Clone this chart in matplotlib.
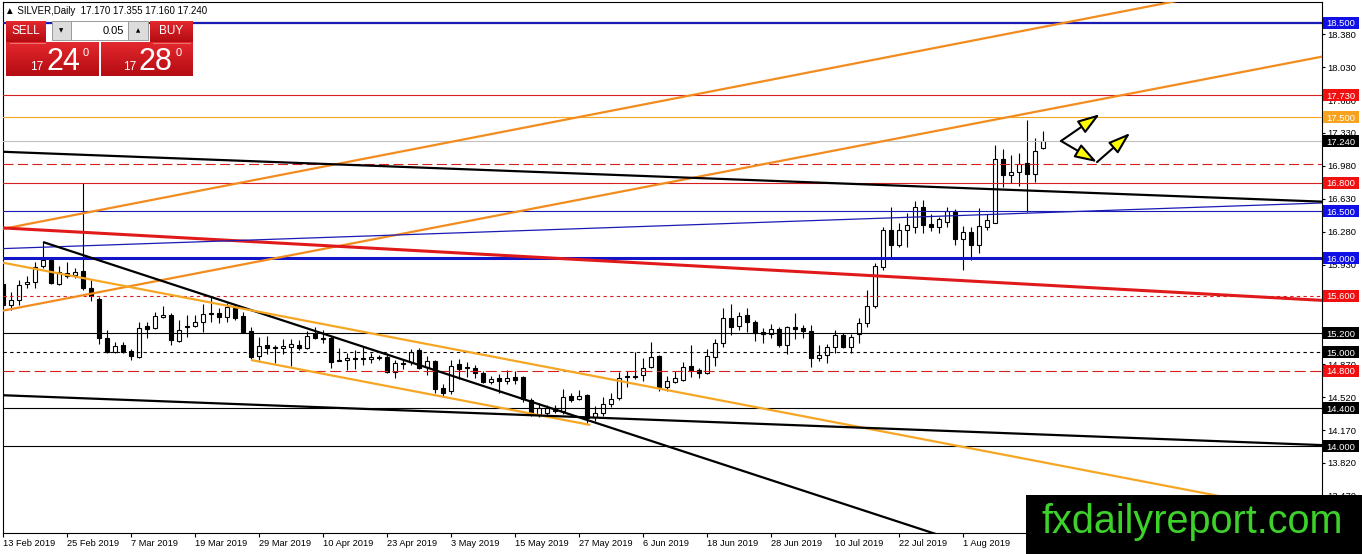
import numpy as np
import matplotlib
matplotlib.use("Agg")
import matplotlib.pyplot as plt
from matplotlib.patches import Rectangle
from matplotlib.colors import LinearSegmentedColormap
from matplotlib.transforms import blended_transform_factory

plt.rcParams['font.family'] = ['Liberation Sans', 'DejaVu Sans']

# ---- daily candles, 13 Feb 2019 .. 13 Aug 2019 ----
opens = [15.72, 15.50, 15.55, 15.72, 15.75, 15.92, 15.98, 15.72, 15.84, 15.82,
         15.86, 15.68, 15.56, 15.15, 15.00, 15.07, 15.01, 14.95, 15.28, 15.26,
         15.37, 15.39, 15.12, 15.27, 15.28, 15.32, 15.41, 15.42, 15.37, 15.47,
         15.38, 15.22, 14.96, 15.07, 15.05, 15.04, 15.05, 15.07, 15.04, 15.19,
         15.15, 15.15, 14.92, 14.92, 14.94, 14.94, 14.93, 14.95, 14.95, 14.79,
         14.88, 14.89, 15.02, 14.84, 14.90, 14.62, 14.58, 14.87, 14.84, 14.83,
         14.78, 14.68, 14.72, 14.69, 14.73, 14.73, 14.49, 14.33, 14.35, 14.40,
         14.37, 14.53, 14.50, 14.54, 14.31, 14.35, 14.45, 14.51, 14.74, 14.74,
         14.76, 14.84, 14.96, 14.63, 14.68, 14.70, 14.85, 14.81, 14.78, 14.95,
         15.10, 15.36, 15.28, 15.39, 15.32, 15.21, 15.19, 15.25, 15.07, 15.27,
         15.26, 15.22, 14.94, 14.97, 15.05, 15.18, 15.05, 15.19, 15.31, 15.49,
         15.90, 16.30, 16.14, 16.30, 16.33, 16.54, 16.36, 16.33, 16.38, 16.49,
         16.20, 16.28, 16.14, 16.33, 16.37, 17.05, 16.88, 16.92, 17.01, 16.89,
         17.17]
highs = [15.78, 15.64, 15.77, 15.81, 15.96, 16.17, 16.01, 15.92, 15.96, 15.89,
         16.80, 15.77, 15.58, 15.23, 15.11, 15.11, 15.03, 15.32, 15.32, 15.43,
         15.49, 15.42, 15.34, 15.39, 15.39, 15.51, 15.60, 15.47, 15.52, 15.51,
         15.43, 15.27, 15.16, 15.17, 15.07, 15.14, 15.14, 15.13, 15.22, 15.27,
         15.23, 15.17, 15.04, 14.99, 15.02, 15.05, 14.99, 14.97, 14.99, 14.92,
         14.92, 15.03, 15.04, 14.96, 14.92, 14.66, 14.92, 14.93, 14.89, 14.86,
         14.80, 14.75, 14.77, 14.81, 14.80, 14.75, 14.51, 14.46, 14.44, 14.44,
         14.61, 14.56, 14.60, 14.55, 14.43, 14.52, 14.56, 14.79, 14.80, 15.00,
         14.94, 15.11, 14.97, 14.75, 14.80, 14.89, 15.07, 14.83, 15.03, 15.14,
         15.47, 15.51, 15.43, 15.47, 15.34, 15.26, 15.30, 15.27, 15.28, 15.42,
         15.29, 15.29, 15.07, 15.09, 15.23, 15.20, 15.19, 15.36, 15.66, 15.95,
         16.33, 16.54, 16.37, 16.48, 16.61, 16.62, 16.47, 16.44, 16.54, 16.52,
         16.34, 16.33, 16.53, 16.47, 17.20, 17.16, 17.10, 17.12, 17.47, 17.28,
         17.355]
lows = [15.47, 15.45, 15.50, 15.68, 15.68, 15.89, 15.72, 15.71, 15.79, 15.79,
        15.66, 15.54, 15.09, 14.99, 14.99, 14.99, 14.92, 14.94, 15.15, 15.25,
        15.36, 15.07, 15.11, 15.16, 15.27, 15.21, 15.32, 15.31, 15.32, 15.34,
        15.21, 14.93, 14.92, 14.98, 14.88, 14.98, 14.85, 15.02, 15.03, 15.14,
        15.10, 14.83, 14.90, 14.81, 14.82, 14.86, 14.88, 14.92, 14.78, 14.72,
        14.82, 14.86, 14.82, 14.76, 14.56, 14.52, 14.55, 14.71, 14.73, 14.72,
        14.67, 14.66, 14.56, 14.66, 14.66, 14.47, 14.32, 14.31, 14.32, 14.35,
        14.34, 14.47, 14.49, 14.25, 14.27, 14.32, 14.42, 14.49, 14.63, 14.71,
        14.69, 14.83, 14.59, 14.59, 14.67, 14.69, 14.73, 14.72, 14.77, 14.85,
        15.05, 15.18, 15.23, 15.21, 15.12, 15.10, 15.15, 15.05, 14.98, 15.14,
        15.15, 14.84, 14.90, 14.88, 14.99, 15.04, 14.99, 15.10, 15.27, 15.47,
        15.87, 16.00, 16.12, 16.12, 16.27, 16.27, 16.29, 16.27, 16.33, 16.14,
        15.87, 15.98, 16.05, 16.30, 16.37, 16.76, 16.80, 16.77, 16.49, 16.81,
        17.16]
closes = [15.50, 15.55, 15.71, 15.74, 15.90, 15.98, 15.73, 15.85, 15.81, 15.85,
          15.68, 15.60, 15.15, 15.00, 15.06, 15.00, 14.96, 15.26, 15.25, 15.38,
          15.39, 15.13, 15.23, 15.28, 15.32, 15.40, 15.40, 15.37, 15.48, 15.36,
          15.21, 14.95, 15.06, 15.04, 15.04, 15.06, 15.09, 15.04, 15.17, 15.15,
          15.14, 14.89, 14.90, 14.94, 14.93, 14.93, 14.95, 14.94, 14.79, 14.88,
          14.87, 15.00, 14.83, 14.90, 14.61, 14.56, 14.85, 14.82, 14.83, 14.78,
          14.68, 14.71, 14.69, 14.72, 14.70, 14.50, 14.34, 14.40, 14.40, 14.37,
          14.52, 14.49, 14.53, 14.30, 14.35, 14.45, 14.50, 14.72, 14.73, 14.73,
          14.83, 14.95, 14.63, 14.69, 14.72, 14.84, 14.81, 14.78, 14.96, 15.10,
          15.36, 15.27, 15.38, 15.32, 15.20, 15.19, 15.25, 15.07, 15.27, 15.25,
          15.22, 14.94, 14.97, 15.05, 15.18, 15.05, 15.16, 15.31, 15.49, 15.92,
          16.30, 16.14, 16.30, 16.35, 16.54, 16.35, 16.33, 16.41, 16.50, 16.20,
          16.28, 16.14, 16.34, 16.40, 17.05, 16.88, 16.92, 17.00, 16.89, 17.14,
          17.24]

date_labels = ['13 Feb 2019', '25 Feb 2019', '7 Mar 2019', '19 Mar 2019', '29 Mar 2019',
               '10 Apr 2019', '23 Apr 2019', '3 May 2019', '15 May 2019', '27 May 2019',
               '6 Jun 2019', '18 Jun 2019', '28 Jun 2019', '10 Jul 2019', '22 Jul 2019',
               '1 Aug 2019']
date_step = 8

price_ticks = [18.38, 18.03, 17.68, 17.33, 16.98, 16.63, 16.28, 15.93, 15.58,
               15.22, 14.87, 14.52, 14.17, 13.82, 13.47]

# horizontal levels: price, colour, width, style, label box colour (None = no box)
levels = [
    (18.50, '#1a1ab4', 1.6, '-', '#1010e6'),
    (17.73, '#d42020', 0.8, '-', '#f01010'),
    (17.50, '#f5a623', 0.8, '-', '#f8a320'),
    (17.24, '#c0c0c0', 0.8, '-', '#000000'),
    (17.00, '#d42020', 0.8, (0, (9, 4)), None),
    (16.80, '#d42020', 0.8, '-', '#f01010'),
    (16.50, '#1a1ab4', 0.8, '-', '#1010e6'),
    (16.00, '#1414c8', 2.2, '-', '#1010e6'),
    (15.60, '#d42020', 0.8, (0, (3, 3)), '#f01010'),
    (15.20, '#000000', 0.8, '-', '#000000'),
    (15.00, '#000000', 0.8, (0, (3, 3)), '#000000'),
    (14.80, '#d42020', 0.8, (0, (10, 4)), '#f01010'),
    (14.40, '#000000', 0.8, '-', '#000000'),
    (14.00, '#000000', 0.8, '-', '#000000'),
]

# trend lines: two anchor points (bar, price), drawn range, colour, width
trendlines = [
    ((0, 16.31), (145.25, 18.71), (-1, 166), '#f28c1e', 1.6),
    ((0, 15.44), (164.75, 18.14), (-1, 166), '#f28c1e', 1.6),
    ((0, 16.32), (164.75, 15.55), (-1, 166), '#e01a1a', 2.2),
    ((0, 16.10), (164.75, 16.585), (-1, 166), '#1a1ab4', 0.9),
    ((0, 17.13), (164.75, 16.60), (-1, 166), '#000000', 1.6),
    ((5, 16.17), (117.1, 13.05), (5, 166), '#000000', 1.6),
    ((0, 15.95), (164.75, 13.26), (-1, 166), '#f5a623', 1.6),
    ((31, 14.915), (73.4, 14.224), (31, 73.4), '#f5a623', 1.6),
    ((0, 14.54), (164.75, 14.01), (-1, 166), '#000000', 1.6),
]

# drawn arrows (bar, price)
arrow_start = (132.25, 17.245)
arrow_up_end = (137.1, 17.53)
arrow_mid = (136.75, 17.02)
arrow_end = (140.9, 17.33)

W, H = 1362, 554
fig = plt.figure(figsize=(W / 100, H / 100), dpi=100)
fig.patch.set_facecolor('white')
ax = fig.add_axes([2.5 / W, (H - 533) / H, 1319 / W, 531 / H])
ax.set_xlim(-0.0625, 164.81)
ax.set_ylim(13.0745, 18.7234)

x = np.arange(len(opens))
o = np.array(opens)
c = np.array(closes)
ax.vlines(x, lows, highs, color='black', lw=0.8, zorder=2)
bull = c >= o
ax.bar(x, np.maximum(np.abs(c - o), 0.006), bottom=np.minimum(o, c), width=0.62,
       color=np.where(bull, 'white', 'black'), edgecolor='black', linewidth=0.8, zorder=3)

for p, col, lw, ls, box in levels:
    ax.axhline(p, color=col, lw=lw, linestyle=ls, zorder=4)

for (k1, v1), (k2, v2), (x0, x1), col, lw in trendlines:
    s = (v2 - v1) / (k2 - k1)
    xs = np.array([x0, x1])
    ax.plot(xs, v1 + s * (xs - k1), color=col, lw=lw, zorder=4.5, solid_capstyle='butt')

arrow_kw = dict(arrowstyle='-|>,head_length=1.35,head_width=0.45', fc='#ffff00', ec='black',
                lw=1.5, shrinkA=0, shrinkB=0)
for a, b in [(arrow_start, arrow_up_end), (arrow_start, arrow_mid), (arrow_mid, arrow_end)]:
    ax.annotate('', xy=b, xytext=a, arrowprops=arrow_kw, zorder=6)

# axes styling
for sp in ax.spines.values():
    sp.set_color('black')
    sp.set_linewidth(0.8)
ax.yaxis.tick_right()
ax.set_yticks(price_ticks)
ax.set_yticklabels(['%.3f' % v for v in price_ticks])
ax.tick_params(axis='y', direction='out', length=2.5, width=0.8, pad=2, labelsize=6.8)
ax.set_xticks(np.arange(len(date_labels)) * date_step)
ax.set_xticklabels(date_labels)
for lbl in ax.get_xticklabels():
    lbl.set_ha('left')
ax.tick_params(axis='x', direction='out', length=3, width=0.8, pad=1.5, labelsize=6.7)

# price boxes on the right scale
trans = blended_transform_factory(ax.transAxes, ax.transData)
px = 1.0 / 1319
box_h = 12 / 94
for p, col, lw, ls, box in levels:
    if box is None:
        continue
    ax.add_patch(Rectangle((1 + 1.5 * px, p - box_h / 2), 36 * px, box_h, transform=trans,
                           fc=box, ec='none', clip_on=False, zorder=6))
    ax.text(1 + 19.5 * px, p, '%.3f' % p, transform=trans, ha='center', va='center_baseline',
            color='white', fontsize=6.8, clip_on=False, zorder=7)

# overlay in pixel coordinates: header, one-click trading panel, watermark
ov = fig.add_axes([0, 0, 1, 1], zorder=10)
ov.patch.set_alpha(0)
ov.axis('off')

reds = LinearSegmentedColormap.from_list('btn', ['#e3282e', '#b30c12'])
grad = np.linspace(0, 1, 64).reshape(-1, 1)


def red_box(x0, y0, x1, y1):
    ov.imshow(grad, extent=(x0, x1, y1, y0), cmap=reds, aspect='auto', interpolation='bilinear')


red_box(6, 21, 46, 42)
red_box(150, 21, 193, 42)
red_box(6, 42, 99, 76)
red_box(101, 42, 193, 76)
ov.plot([10, 45], [42.5, 42.5], color='#f08080', lw=0.6)
ov.plot([153, 190], [42.5, 42.5], color='#f08080', lw=0.6)
ov.add_patch(Rectangle((52, 21), 19, 19, fc='#dcdcdc', ec='#9a9a9a', lw=0.7))
ov.add_patch(Rectangle((71, 21), 57, 19, fc='white', ec='#9a9a9a', lw=0.7))
ov.add_patch(Rectangle((128, 21), 20, 19, fc='#dcdcdc', ec='#9a9a9a', lw=0.7))
ov.text(61.5, 31, '▼', fontsize=4, ha='center', va='center', family=['DejaVu Sans'])
ov.text(138, 30.5, '▲', fontsize=4, ha='center', va='center', family=['DejaVu Sans'])
ov.text(124, 31, '0.05', fontsize=8, ha='right', va='center')
ov.text(26, 31.5, 'SELL', fontsize=8.5, ha='center', va='center', color='white')
ov.text(171, 31.5, 'BUY', fontsize=8.5, ha='center', va='center', color='white')
for x0, big in [(30, '24'), (123, '28')]:
    ov.text(x0, 70, '17', fontsize=8.5, color='white', va='baseline')
    ov.text(x0 + 16, 70, big, fontsize=22, color='white', va='baseline')
    ov.text(x0 + 53, 56, '0', fontsize=8, color='white', va='baseline')

ov.text(5, 10.5, '▲ SILVER,Daily  17.170 17.355 17.160 17.240', fontsize=7,
        va='center', ha='left', family=['Liberation Sans', 'DejaVu Sans'])

ov.add_patch(Rectangle((1026, 495), 336, 59, fc='black', ec='none'))
ov.text(1042, 533, 'fxdailyreport.com', color='#3cd22a', fontsize=28.5, va='baseline', ha='left')

ov.set_xlim(0, W)
ov.set_ylim(H, 0)

fig.savefig('out.png', dpi=100)
